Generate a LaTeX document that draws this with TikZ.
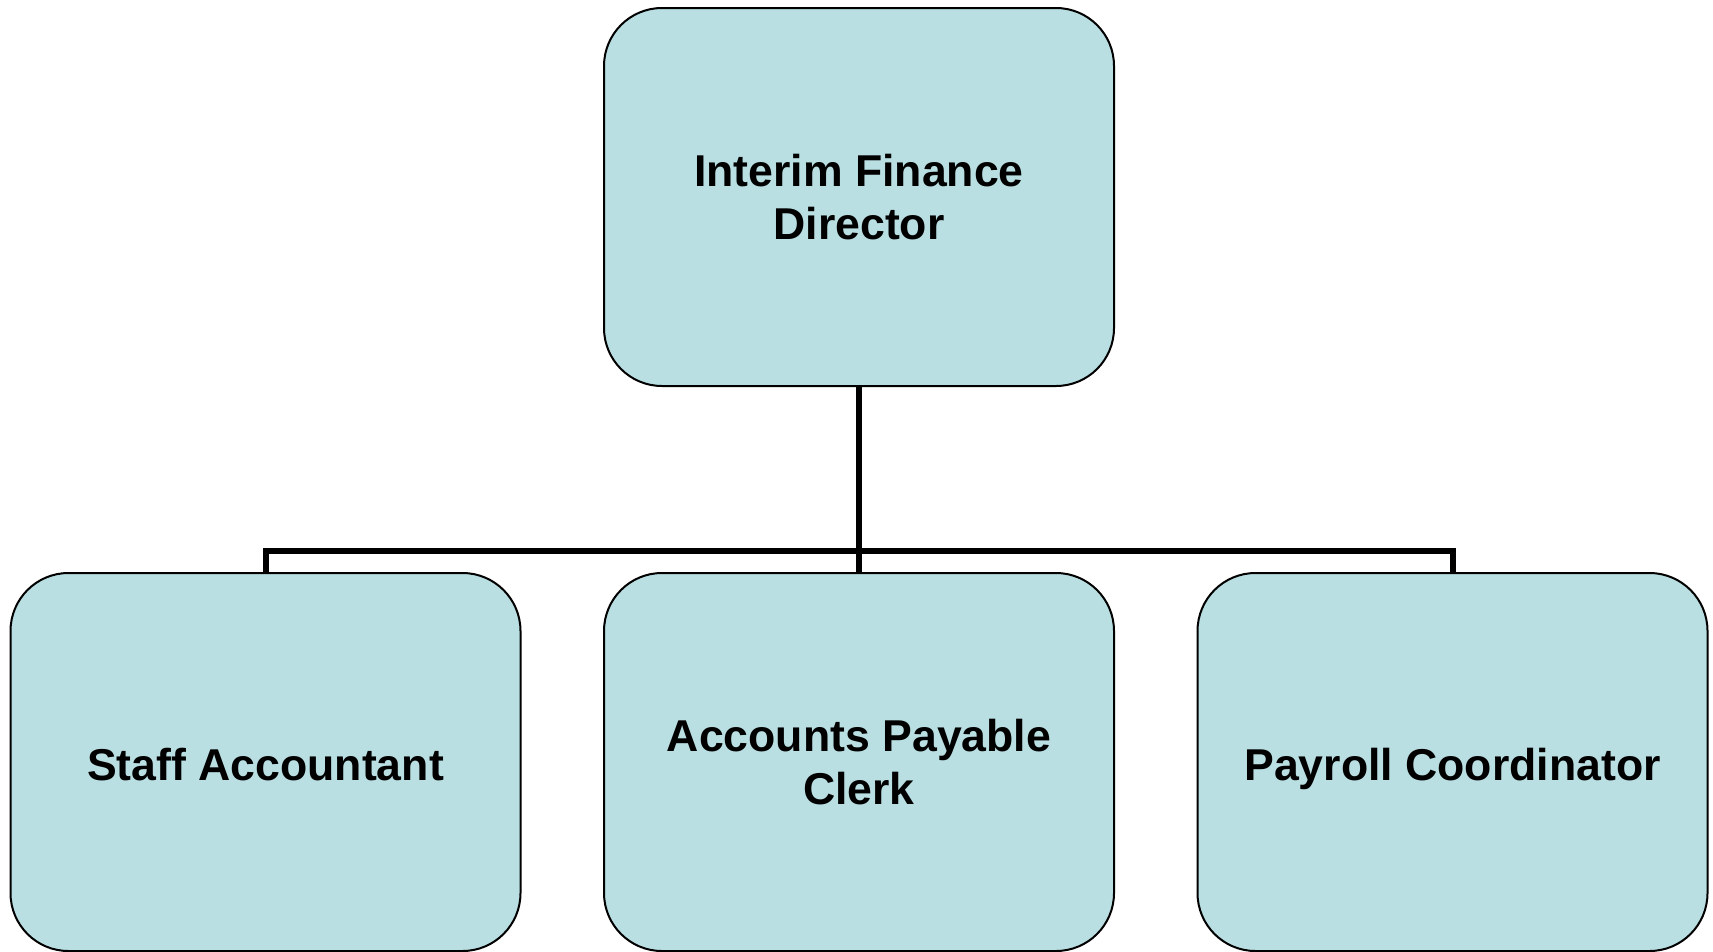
\documentclass[tikz,border=0pt]{standalone}
\usepackage{fontspec}
\setmainfont{Liberation Sans}
\begin{document}
\begin{tikzpicture}[x=1pt,y=1pt,
  orgbox/.style={draw=black, line width=2pt, fill=boxblue, rounded corners=58pt,
    minimum width=510pt, minimum height=378pt, inner sep=0pt,
    align=center, font=\fontsize{44.6}{53}\selectfont\bfseries},
  oneline/.style={text height=37pt, text depth=0pt},
  conn/.style={draw=black, line width=6pt}]
\definecolor{boxblue}{RGB}{185,223,227}
\useasboundingbox (0,0) rectangle (1713,-951);
% top of the hierarchy
\node[orgbox] (dir) at (859,-197) {Interim Finance\\Director};
% reporting positions
\node[orgbox, oneline] (staff) at (265.5,-762) {Staff Accountant};
\node[orgbox] (ap) at (859,-762) {Accounts Payable\\Clerk};
\node[orgbox, oneline] (pay) at (1452.5,-762) {Payroll Coordinator};
% connectors
\coordinate (bus) at (859,-551);
\draw[conn] (dir.south) -- (bus);
\draw[conn] (staff.north) -- (staff.north |- bus) -- (pay.north |- bus) -- (pay.north);
\draw[conn] (bus) -- (ap.north);
\end{tikzpicture}
\end{document}
